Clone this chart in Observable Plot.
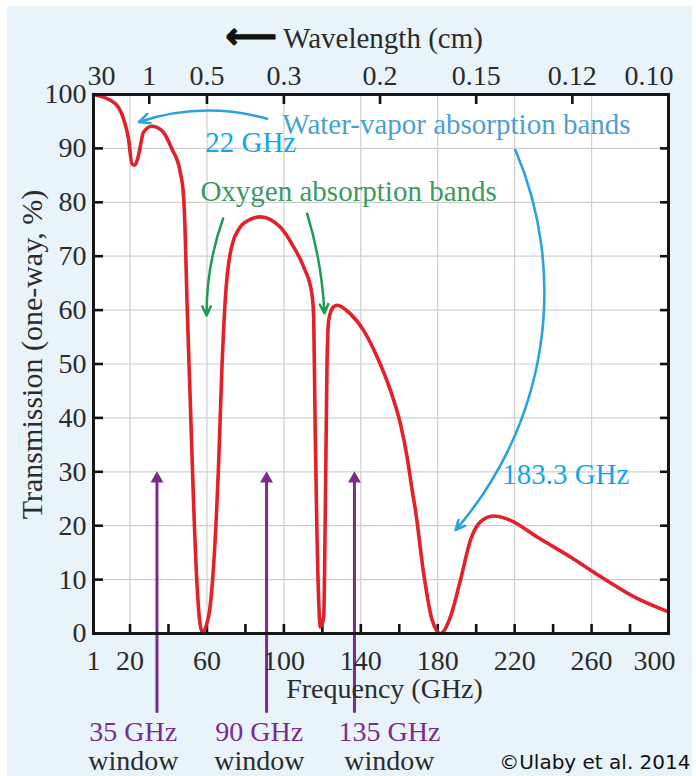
<!DOCTYPE html>
<html><head><meta charset="utf-8">
<script src="https://cdn.jsdelivr.net/npm/d3@7"></script>
<script src="https://cdn.jsdelivr.net/npm/@observablehq/plot@0.6"></script>
<style>
body{margin:0;background:#fff;}
#chart{position:absolute;left:7px;top:6px;}
</style></head><body><div id="chart"></div>
<script>
// Atmospheric transmission curve
const frequencyGHz = [1, 12.3, 16.6, 19.2, 21, 22.5, 24.4, 27, 31.4, 36.6, 41.8, 46.1, 47.8, 48.7, 49.6, 51.3, 53, 54.8, 57.4, 60.8, 63.4, 66, 67.8, 69.5, 72.1, 77.3, 83, 88, 93, 98.1, 105.1, 110.3, 114.6, 115.5, 116.3, 117.2, 119, 120.7, 121.6, 122.4, 123.3, 125.5, 127.6, 134.6, 141.5, 148.5, 155.4, 160.6, 164.1, 166.7, 168.4, 172.7, 177.1, 181.4, 186.6, 191.8, 197, 202.2, 209.1, 217.8, 231.7, 249, 266.3, 283.7, 300];
const transmissionPct = [100, 98.3, 95.5, 91.8, 87.1, 86.9, 88.7, 93, 94.1, 93.3, 89.9, 85.6, 81.3, 73.9, 61.8, 43.3, 24.7, 9.3, 0.3, 3.1, 12.3, 30.9, 49.4, 61.8, 70.5, 75.4, 76.9, 77.3, 76.8, 75.4, 71.7, 68, 63, 58.7, 37.1, 18.6, 1.2, 3.1, 24.7, 49.4, 58.1, 60.5, 60.9, 59.3, 56.2, 51.3, 45.1, 38.9, 32.7, 26.6, 22.9, 11.1, 2.5, 0, 3.1, 9.9, 17.3, 20.7, 21.8, 21, 17.9, 14.2, 10.2, 6.5, 4];

// Axes
const freqTickLabelValues = [1, 20, 60, 100, 140, 180, 220, 260, 300];
const freqTickLabels = ["1", "20", "60", "100", "140", "180", "220", "260", "300"];
const freqTickMarks = [20, 40, 60, 80, 100, 120, 140, 160, 180, 200, 220, 240, 260, 280];
const freqGridLines = [20, 60, 100, 140, 180, 220, 260];
const transmissionTicks = [0, 10, 20, 30, 40, 50, 60, 70, 80, 90, 100];
const wavelengthCm = [30, 1, 0.5, 0.3, 0.2, 0.15, 0.12, 0.10];
const wavelengthLabels = ["30", "1", "0.5", "0.3", "0.2", "0.15", "0.12", "0.10"];

// Windows (purple arrows)
const windowFreq = [34, 91, 136.7];
const windowLabels = ["35 GHz", "90 GHz", "135 GHz"];
const windowLabelFreq = [21.7, 87.2, 154.9];
const windowArrowTop = [28.7, 28.7, 28.7];
const windowArrowBottom = [-14.8, -14.8, -14.8];

// Annotations: [freq, transmission]
const waterArrow22From = [91.3, 95.5], waterArrow22To = [24.6, 94.9];
const waterArrow183From = [220.4, 89.7], waterArrow183To = [189.3, 19.2];
const oxygenArrow60From = [68.4, 77], oxygenArrow60To = [59.8, 59];
const oxygenArrow118From = [112.1, 77.9], oxygenArrow118To = [121.1, 59.4];
const annotationTexts = ["22 GHz", "Water-vapor absorption bands", "Oxygen absorption bands", "183.3 GHz"];
const annotationFreq = [59.1, 99.2, 56.6, 213.5];
const annotationPct = [91.0, 94.4, 82.0, 29.5];
const annotationColors = ["#12a6ea", "#4a9fd3", "#3b9963", "#14a5e8"];

const W = 685, H = 770, mL = 86, mR = 24, mT = 88, mB = 143;
const fw = W - mL - mR, fh = H - mT - mB;

const curve = frequencyGHz.map((f, i) => ({f, t: transmissionPct[i]}));
const labelsBottom = freqTickLabelValues.map((v, i) => ({v, s: freqTickLabels[i]}));
const labelsTop = wavelengthCm.map((w, i) => ({f: 30 / w, s: wavelengthLabels[i]}));
const windows = windowFreq.map((f, i) => ({f, lf: windowLabelFreq[i], s: windowLabels[i], top: windowArrowTop[i], bot: windowArrowBottom[i]}));
const notes = annotationTexts.map((s, i) => ({s, f: annotationFreq[i], t: annotationPct[i], c: annotationColors[i]}));
const arrowRow = (a, b) => [{x1: a[0], y1: a[1], x2: b[0], y2: b[1]}];

const ink = "#2b2b2b", purple = "#7b2b8d", cyan = "#2ba2de", green = "#1f9a52";

const chart = Plot.plot({
  width: W, height: H,
  marginLeft: mL, marginRight: mR, marginTop: mT, marginBottom: mB,
  x: {domain: [1, 300], axis: null},
  y: {domain: [0, 100], axis: null},
  style: {background: "#e8f3fa", fontFamily: "'Liberation Serif', 'Times New Roman', serif"},
  marks: [
    Plot.frame({fill: "white"}),
    Plot.ruleX(freqGridLines, {x: d => d, stroke: "#cfcfcf", strokeWidth: 1.2}),
    Plot.ruleY(transmissionTicks.slice(1, -1), {y: d => d, stroke: "#cfcfcf", strokeWidth: 1.2}),
    // tick marks (inward)
    Plot.tickX(freqTickMarks, {x: d => d, insetTop: fh - 9, stroke: "#111", strokeWidth: 2.6}),
    Plot.tickX(labelsTop.filter(d => d.f > 1 && d.f < 300), {x: "f", insetBottom: fh - 10, stroke: "#111", strokeWidth: 2.6}),
    Plot.tickY(transmissionTicks.slice(1, -1), {y: d => d, insetRight: fw - 10, stroke: "#111", strokeWidth: 2.6}),
    Plot.tickY(transmissionTicks.slice(1, -1), {y: d => d, insetLeft: fw - 8, stroke: "#111", strokeWidth: 2.6}),
    // window arrows
    Plot.ruleX(windows, {x: "f", y1: "bot", y2: "top", stroke: purple, strokeWidth: 3}),
    Plot.dot(windows, {x: "f", y: "top", symbol: "triangle", r: 4.8, fill: purple, stroke: "none"}),
    // curve
    Plot.line(curve, {x: "f", y: "t", curve: "monotone-x", stroke: "#e4202a", strokeWidth: 3.6}),
    Plot.frame({stroke: "#161616", strokeWidth: 3}),
    // annotation arrows
    Plot.arrow(arrowRow(waterArrow22From, waterArrow22To), {x1: "x1", y1: "y1", x2: "x2", y2: "y2", bend: -17, stroke: cyan, strokeWidth: 2.5, headLength: 7, headAngle: 50}),
    Plot.arrow(arrowRow(waterArrow183From, waterArrow183To), {x1: "x1", y1: "y1", x2: "x2", y2: "y2", bend: 32, stroke: cyan, strokeWidth: 2.6, headLength: 6, headAngle: 50}),
    Plot.arrow(arrowRow(oxygenArrow60From, oxygenArrow60To), {x1: "x1", y1: "y1", x2: "x2", y2: "y2", bend: -10, stroke: green, strokeWidth: 2.5, headLength: 6, headAngle: 50}),
    Plot.arrow(arrowRow(oxygenArrow118From, oxygenArrow118To), {x1: "x1", y1: "y1", x2: "x2", y2: "y2", bend: 7, stroke: green, strokeWidth: 2.5, headLength: 6, headAngle: 50}),
    // annotation texts
    Plot.text(notes, {x: "f", y: "t", text: "s", fill: "c", textAnchor: "start", lineAnchor: "middle", fontSize: 29}),
    // y tick labels
    Plot.text(transmissionTicks, {y: d => d, text: d => String(d), frameAnchor: "left", textAnchor: "end", lineAnchor: "middle", dx: -7, fontSize: 28, fill: ink}),
    // bottom tick labels
    Plot.text(labelsBottom.slice(0, -1), {x: "v", text: "s", frameAnchor: "bottom", textAnchor: "middle", lineAnchor: "middle", dy: 28, fontSize: 28, fill: ink}),
    Plot.text(labelsBottom.slice(-1), {x: "v", text: "s", frameAnchor: "bottom", textAnchor: "end", lineAnchor: "middle", dx: 7, dy: 28, fontSize: 28, fill: ink}),
    // top (wavelength) tick labels
    Plot.text(labelsTop.slice(0, 1), {x: "f", text: "s", frameAnchor: "top", textAnchor: "start", lineAnchor: "middle", dx: -6, dy: -18, fontSize: 28, fill: ink}),
    Plot.text(labelsTop.slice(1, -1), {x: "f", text: "s", frameAnchor: "top", textAnchor: "middle", lineAnchor: "middle", dy: -18, fontSize: 28, fill: ink}),
    Plot.text(labelsTop.slice(-1), {x: "f", text: "s", frameAnchor: "top", textAnchor: "end", lineAnchor: "middle", dx: 5, dy: -18, fontSize: 28, fill: ink}),
    // axis titles
    Plot.text(["Frequency (GHz)"], {frameAnchor: "bottom", textAnchor: "middle", lineAnchor: "middle", dx: 3.5, dy: 56, fontSize: 28, fill: ink}),
    Plot.text(["Transmission (one-way, %)"], {frameAnchor: "left", textAnchor: "middle", lineAnchor: "middle", rotate: -90, dx: -61, dy: -9.5, fontSize: 30, fill: ink}),
    Plot.text(["Wavelength (cm)"], {frameAnchor: "top", textAnchor: "middle", lineAnchor: "middle", dx: 2, dy: -56, fontSize: 29, fill: ink}),
    Plot.text(["⟵"], {frameAnchor: "top", textAnchor: "middle", lineAnchor: "middle", dx: -130, dy: -58, fontSize: 36, fontWeight: "bold", fontFamily: "DejaVu Sans", fill: "#111", stroke: "#111", strokeWidth: 1.2}),
    // window labels
    Plot.text(windows, {x: "lf", text: "s", frameAnchor: "bottom", textAnchor: "middle", lineAnchor: "middle", dy: 99, fontSize: 28, fill: purple}),
    Plot.text(windows, {x: "lf", text: () => "window", frameAnchor: "bottom", textAnchor: "middle", lineAnchor: "middle", dy: 128, fontSize: 28, fill: ink}),
    // credit
    Plot.text(["©Ulaby et al. 2014"], {frameAnchor: "bottom-right", textAnchor: "end", lineAnchor: "middle", dx: 22, dy: 129, fontSize: 20, fontFamily: "DejaVu Sans", fill: "#111"})
  ]
});
document.getElementById("chart").appendChild(chart);
</script></body></html>
